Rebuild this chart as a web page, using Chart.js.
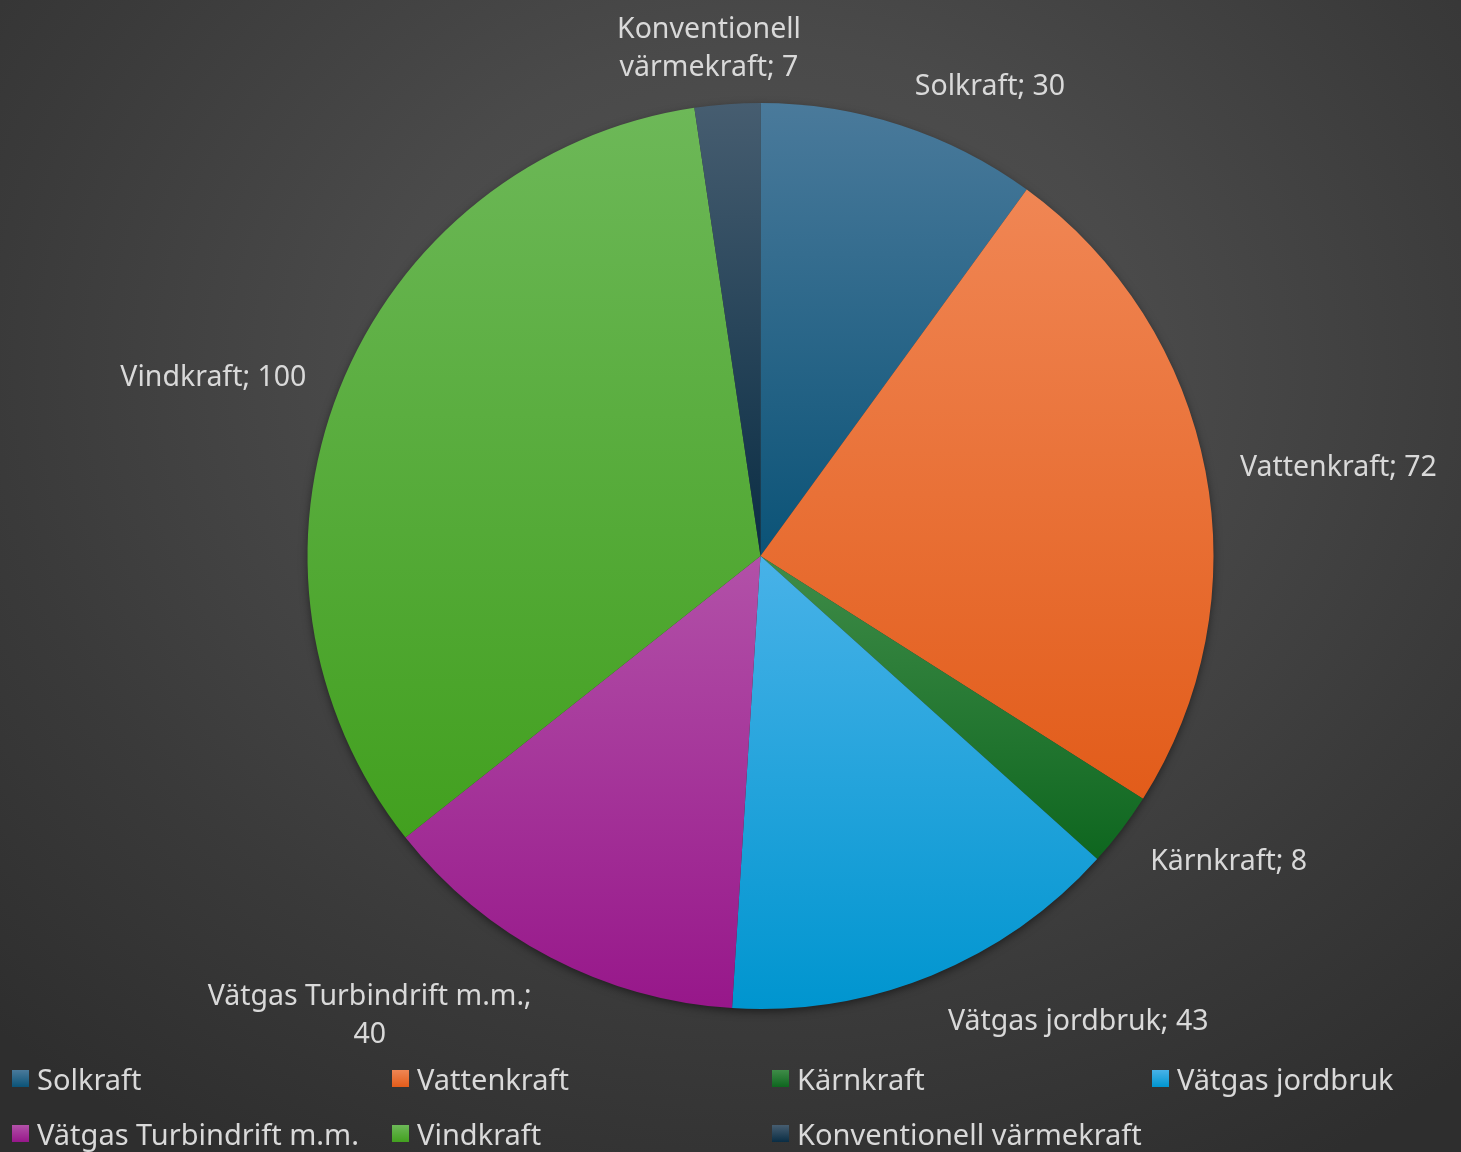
<!DOCTYPE html>
<html lang="sv">
<head>
<meta charset="utf-8">
<script src="https://cdn.jsdelivr.net/npm/chart.js@4/dist/chart.umd.min.js"></script>
<style>
  html, body { margin:0; padding:0; }
  body {
    width:1461px; height:1152px; overflow:hidden; position:relative;
    background: radial-gradient(ellipse 75% 80% at 52% 32%, #535353 0%, #4a4a4a 35%, #3a3a3a 70%, #2e2e2e 100%);
    font-family: "Noto Sans", sans-serif;
  }
  #chart { position:absolute; left:0; top:0; }
  #legend {
    position:absolute; left:12px; top:1061px;
    display:grid; grid-template-columns:380px 380px 380px 300px; row-gap:20px;
  }
  .lg-item { display:flex; align-items:center; height:35px; color:#d9d9d9; font-size:29px; white-space:nowrap; }
  .lg-box { width:17px; height:17px; margin-right:8px; flex:none; }
</style>
</head>
<body>
<canvas id="chart" width="1461" height="1152"></canvas>
<div id="legend"></div>
<script>
// ── Data ──────────────────────────────────────────────────
const categories = ['Solkraft', 'Vattenkraft', 'Kärnkraft', 'Vätgas jordbruk', 'Vätgas Turbindrift m.m.', 'Vindkraft', 'Konventionell värmekraft'];
const values     = [30, 72, 8, 43, 40, 100, 7];

// gradient colours per slice (top → bottom)
const topColors    = ['#4a7a9b', '#f08654', '#3f8c48', '#48b2e8', '#b251a8', '#6db858', '#465d70'];
const bottomColors = ['#0b5377', '#e25c1a', '#0e661f', '#0095cf', '#97178a', '#42a01f', '#0a2d44'];

const LABEL_COLOR = '#d9d9d9';
const LABEL_FONT  = '28.5px "Noto Sans", sans-serif';
const LINE_H = 38;

// slice vertical extent, for a per-slice gradient like Excel
function sliceBounds(i, cy, r) {
  const total = values.reduce((a, b) => a + b, 0);
  let a0 = 0;
  for (let k = 0; k < i; k++) a0 += values[k] / total * Math.PI * 2;
  const a1 = a0 + values[i] / total * Math.PI * 2;
  const ys = [cy, cy - r * Math.cos(a0), cy - r * Math.cos(a1)];
  if (a0 <= 0 && a1 >= 0) ys.push(cy - r);
  if (a0 <= Math.PI && a1 >= Math.PI) ys.push(cy + r);
  return [Math.min(...ys), Math.max(...ys)];
}

function sliceFill(c) {
  const chart = c.chart, area = chart.chartArea;
  if (!area) return topColors[c.dataIndex];
  const cy = (area.top + area.bottom) / 2;
  const r  = Math.min(area.right - area.left, area.bottom - area.top) / 2;
  const [y0, y1] = sliceBounds(c.dataIndex, cy, r);
  const g = chart.ctx.createLinearGradient(0, y0, 0, y1);
  g.addColorStop(0, topColors[c.dataIndex]);
  g.addColorStop(1, bottomColors[c.dataIndex]);
  return g;
}

// ── Shadow under the pie ──────────────────────────────────
const pieShadow = {
  id: 'pieShadow',
  beforeDatasetsDraw(chart) {
    const arc = chart.getDatasetMeta(0).data[0];
    if (!arc) return;
    const { x, y, outerRadius } = arc.getProps(['x', 'y', 'outerRadius'], true);
    const ctx = chart.ctx;
    ctx.save();
    ctx.shadowColor = 'rgba(0,0,0,0.55)';
    ctx.shadowBlur = 10;
    ctx.shadowOffsetY = 3;
    ctx.fillStyle = '#333';
    ctx.beginPath();
    ctx.arc(x, y, outerRadius - 1, 0, Math.PI * 2);
    ctx.fill();
    ctx.restore();
  }
};

// ── Data labels "Name; value" outside the slices ───────────
function wrapText(ctx, text, maxW) {
  const words = text.split(' ');
  const lines = [];
  let cur = '';
  words.forEach(w => {
    const t = cur ? cur + ' ' + w : w;
    if (cur && ctx.measureText(t).width > maxW) { lines.push(cur); cur = w; }
    else cur = t;
  });
  if (cur) lines.push(cur);
  return lines;
}

const outsideLabels = {
  id: 'outsideLabels',
  afterDatasetsDraw(chart) {
    const ctx = chart.ctx;
    const meta = chart.getDatasetMeta(0);
    ctx.save();
    ctx.font = LABEL_FONT;
    ctx.fillStyle = LABEL_COLOR;
    ctx.textBaseline = 'middle';
    ctx.textAlign = 'center';
    meta.data.forEach((arc, i) => {
      const p = arc.getProps(['x', 'y', 'startAngle', 'endAngle', 'outerRadius'], true);
      const mid = (p.startAngle + p.endAngle) / 2;
      const sx = Math.cos(mid), sy = Math.sin(mid);
      const ax = p.x + sx * (p.outerRadius + 30);
      const ay = p.y + sy * (p.outerRadius + 30);
      const centred = Math.abs(sx) < 0.25;
      const lines = wrapText(ctx, categories[i] + '; ' + values[i], centred ? 230 : 350);
      const bw = Math.max(...lines.map(l => ctx.measureText(l).width));
      const hh = lines.length * LINE_H / 2 * 0.8;
      const cy = ay + sy * hh + 5;
      let cx;
      if (centred)     cx = ax + sx * bw * 1.2;
      else if (sx > 0) cx = ax + 5 + bw / 2;
      else             cx = ax - 5 - bw / 2;
      lines.forEach((l, k) => {
        ctx.fillText(l, cx, cy + (k - (lines.length - 1) / 2) * LINE_H);
      });
    });
    ctx.restore();
  }
};

new Chart(document.getElementById('chart'), {
  type: 'pie',
  data: {
    labels: categories,
    datasets: [{ data: values, backgroundColor: sliceFill, borderWidth: 0, hoverOffset: 0 }]
  },
  options: {
    responsive: false,
    animation: false,
    layout: { padding: { top: 103, bottom: 143, left: 307, right: 247 } },
    plugins: { legend: { display: false }, tooltip: { enabled: false } }
  },
  plugins: [pieShadow, outsideLabels]
});

// ── Legend (4-column grid like the original) ───────────────
document.getElementById('legend').innerHTML = categories.map((c, i) => `
  <div class="lg-item"><span class="lg-box" style="background:linear-gradient(${topColors[i]},${bottomColors[i]})"></span>${c}</div>`).join('');
</script>
</body>
</html>
